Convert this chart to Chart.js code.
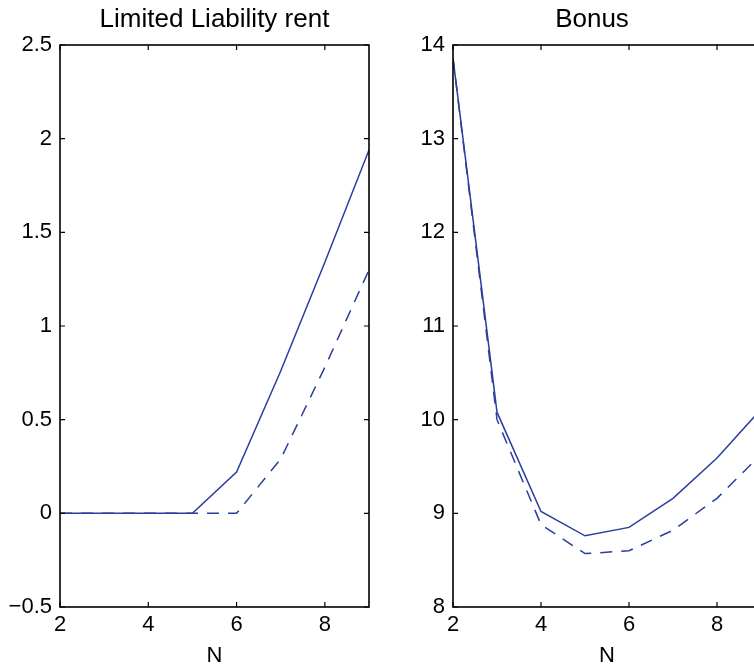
<!DOCTYPE html>
<html><head><meta charset="utf-8">
<script src="https://cdn.jsdelivr.net/npm/chart.js@4.4.1/dist/chart.umd.min.js"></script>
<style>
html,body{margin:0;padding:0;background:#fff;overflow:hidden;width:754px;height:670px;}
#wrap{position:relative;width:754px;height:670px;overflow:hidden;background:#fff;}
canvas{position:absolute;top:0;}
#c1{left:0;width:380px;height:670px;}
#c2{left:380px;width:424px;height:670px;}
</style></head><body>
<div id="wrap"><canvas id="c1" width="380" height="670"></canvas><canvas id="c2" width="424" height="670"></canvas></div>
<script>
const N = [2, 3, 4, 5, 6, 7, 8, 9];
const rentSolid  = [0, 0, 0, 0, 0.22, 0.76, 1.34, 1.94];
const rentDashed = [0, 0, 0, 0, 0, 0.29, 0.78, 1.30];
const bonusSolid  = [13.86, 10.08, 9.02, 8.76, 8.85, 9.16, 9.59, 10.11];
const bonusDashed = [13.86, 10.00, 8.88, 8.57, 8.60, 8.82, 9.16, 9.63];
const xTicks = [2, 4, 6, 8];
const rentTicks = [-0.5, 0, 0.5, 1, 1.5, 2, 2.5];
const rentTickLabels = ['\u22120.5', '0', '0.5', '1', '1.5', '2', '2.5'];
const bonusTicks = [8, 9, 10, 11, 12, 13, 14];
const bonusTickLabels = ['8', '9', '10', '11', '12', '13', '14'];

const FONT = 'Liberation Sans, Arial, Helvetica, sans-serif';
const LINE = 'rgb(42,62,158)';

const frame = {
  id: 'frame',
  afterDatasetsDraw(chart) {
    const {ctx, chartArea: a, scales: {x, y}} = chart;
    ctx.save();
    ctx.strokeStyle = '#000';
    ctx.lineWidth = 1.6;
    ctx.strokeRect(a.left, a.top, a.right - a.left, a.bottom - a.top);
    ctx.beginPath();
    x.ticks.forEach(t => {
      const px = x.getPixelForValue(t.value);
      ctx.moveTo(px, a.bottom); ctx.lineTo(px, a.bottom - 5);
      ctx.moveTo(px, a.top); ctx.lineTo(px, a.top + 5);
    });
    y.ticks.forEach(t => {
      const py = y.getPixelForValue(t.value);
      ctx.moveTo(a.left, py); ctx.lineTo(a.left + 5, py);
      ctx.moveTo(a.right, py); ctx.lineTo(a.right - 5, py);
    });
    ctx.lineWidth = 1.2;
    ctx.stroke();
    ctx.restore();
  }
};

function pts(ys) { return N.map((v, i) => ({x: v, y: ys[i]})); }

function makeChart(id, title, solid, dashed, yMin, yMax, yTicks, yLabels, leftW, rightW, titleFull) {
  return new Chart(document.getElementById(id), {
    type: 'line',
    data: {
      datasets: [
        {data: pts(solid), borderColor: LINE, borderWidth: 1.5, pointRadius: 0, tension: 0, fill: false},
        {data: pts(dashed), borderColor: LINE, borderWidth: 1.5, borderDash: [12, 9], pointRadius: 0, tension: 0, fill: false}
      ]
    },
    options: {
      responsive: false,
      animation: false,
      events: [],
      layout: {padding: 0},
      plugins: {
        legend: {display: false},
        tooltip: {enabled: false},
        title: {
          display: true, text: title, fullSize: titleFull, color: '#000',
          font: {family: FONT, size: 26, weight: 'normal', lineHeight: 1},
          padding: {top: 7, bottom: 12}
        }
      },
      scales: {
        x: {
          type: 'linear', min: 2, max: 9, position: 'bottom',
          afterBuildTicks: s => { s.ticks = xTicks.map(v => ({value: v})); },
          afterFit: s => { s.height = 63; },
          grid: {display: false, drawTicks: false},
          border: {display: false},
          ticks: {color: '#000', padding: 5, maxRotation: 0, autoSkip: false,
                  font: {family: FONT, size: 22}, callback: v => String(v)},
          title: {display: true, text: 'N', color: '#000', padding: {top: 0, bottom: 3},
                  font: {family: FONT, size: 22, lineHeight: 1}}
        },
        y: {
          type: 'linear', min: yMin, max: yMax, position: 'left',
          afterBuildTicks: s => { s.ticks = yTicks.map(v => ({value: v})); },
          afterFit: s => { s.width = leftW; },
          grid: {display: false, drawTicks: false},
          border: {display: false},
          ticks: {color: '#000', padding: 8, autoSkip: false,
                  font: {family: FONT, size: 22},
                  callback: (v) => { const i = yTicks.indexOf(v); return i >= 0 ? yLabels[i] : ''; }}
        },
        y2: {
          type: 'linear', position: 'right', display: true,
          afterFit: s => { s.width = rightW; },
          grid: {display: false, drawTicks: false},
          border: {display: false},
          ticks: {display: false}
        }
      }
    },
    plugins: [frame]
  });
}

makeChart('c1', 'Limited Liability rent', rentSolid, rentDashed, -0.5, 2.5, rentTicks, rentTickLabels, 60, 11, false);
makeChart('c2', 'Bonus', bonusSolid, bonusDashed, 8, 14, bonusTicks, bonusTickLabels, 73, 43, true);
</script>
</body></html>
